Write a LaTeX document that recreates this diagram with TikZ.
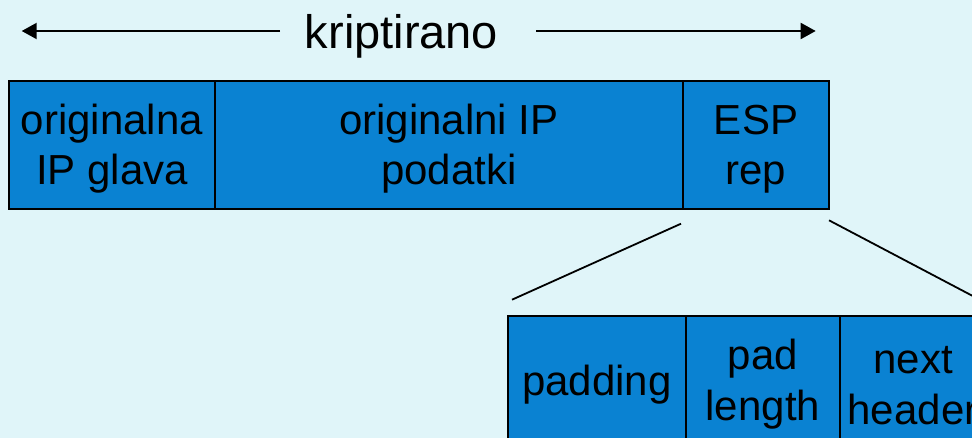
\documentclass[tikz,border=0pt]{standalone}
\usepackage{fontspec}
\setmainfont{Liberation Sans}
\usetikzlibrary{arrows.meta,calc}
\definecolor{bgcol}{HTML}{E0F5F9}
\definecolor{boxcol}{HTML}{0A82D2}
\tikzset{
  field/.style={draw=black, line width=2pt, fill=boxcol, inner sep=0pt, align=center,
    minimum height=128pt, font=\fontsize{42}{50.5}\selectfont},
  oneline/.style={field, text height=39pt},
  twoline/.style={field, text height=89pt},
  conn/.style={line width=1.8pt, black},
  arr/.style={line width=2pt, -{Triangle[length=15pt,width=16pt]}},
}
\begin{document}
\begin{tikzpicture}[x=1pt,y=-1pt]
\fill[bgcol] (0,0) rectangle (972,438);
\useasboundingbox (0,0) rectangle (972,438);
% title
\node[anchor=base, inner sep=0pt, font=\fontsize{47}{56}\selectfont] (kt) at (401.5,48.3) {kriptirano};
\coordinate (la) at (280,31);
\coordinate (lt) at (21.7,31);
\coordinate (ra) at (536,31);
\coordinate (rt) at (815.7,31);
\draw[arr] (la) -- (lt);
\draw[arr] (ra) -- (rt);
% top row
\node[twoline, minimum width=206pt] (hdr) at (112,144.7) {originalna\\IP glava};
\node[twoline, minimum width=468pt] (data) at (449,144.7) {originalni IP\\podatki};
\node[twoline, minimum width=146pt] (esp) at (756,144.7) {ESP\\rep};
% bottom row
\node[oneline, minimum width=177.7pt] (pad) at (596.85,380) {padding};
\node[twoline, minimum width=154.3pt] (plen) at (762.85,380) {pad\\length};
\node[twoline, minimum width=146pt] (nh) at (913,380) {next\\header};
% connectors
\coordinate (c1) at ($(esp.south west)+(-1,14)$);
\coordinate (c2) at ($(pad.north west)+(5,-15.3)$);
\coordinate (c3) at ($(esp.south east)+(-1,10.6)$);
\coordinate (c4) at ($(nh.north east)+(0,-11.5)$);
\draw[conn] (c1) -- (c2);
\draw[conn] (c3) -- (c4);
\end{tikzpicture}
\end{document}
